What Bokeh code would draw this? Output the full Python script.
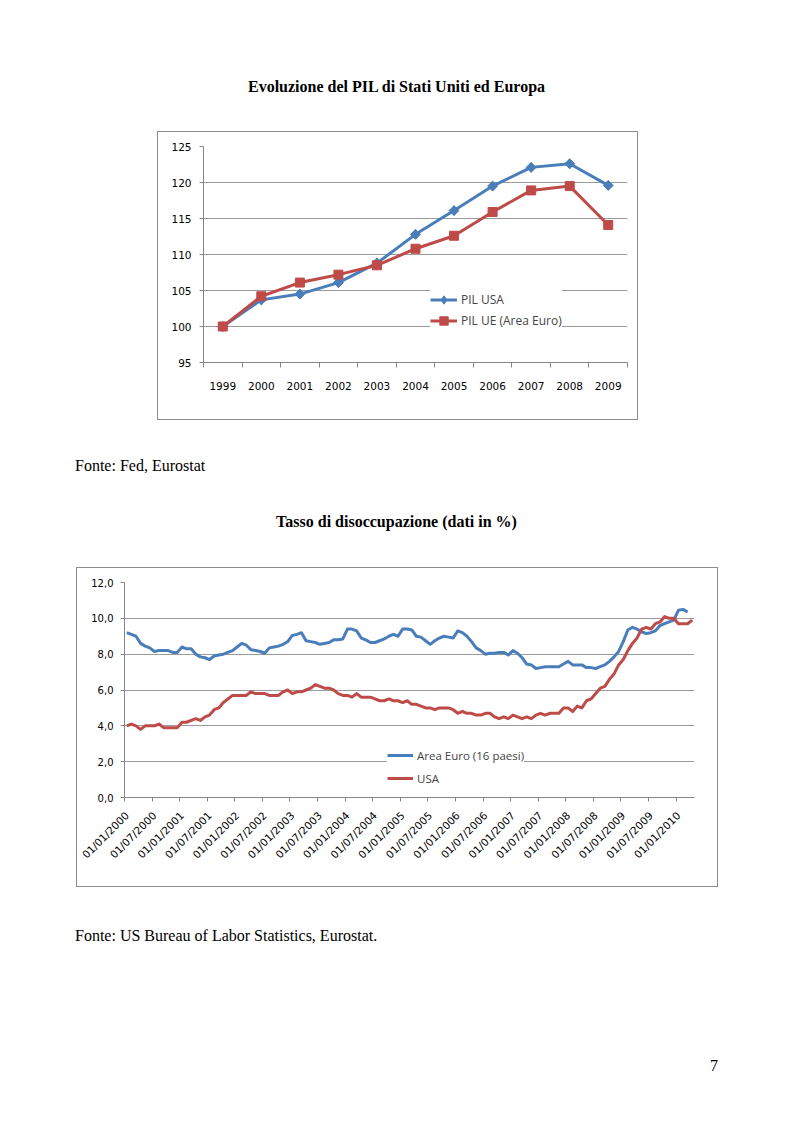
import math
import numpy as np
from bokeh.plotting import figure
from bokeh.models import Range1d, FixedTicker, Legend, LegendItem, Div, Spacer
from bokeh.layouts import column, row
from bokeh.embed import file_html
from bokeh.resources import INLINE

# ---------------- data: chart 1 ----------------
years = ["1999", "2000", "2001", "2002", "2003", "2004", "2005", "2006", "2007", "2008", "2009"]
pil_usa = [100.0, 103.7, 104.5, 106.1, 108.8, 112.8, 116.1, 119.5, 122.1, 122.6, 119.6]
pil_ue = [100.0, 104.2, 106.1, 107.2, 108.5, 110.8, 112.6, 115.9, 118.9, 119.5, 114.1]
y1_ticks = [95, 100, 105, 110, 115, 120, 125]

# ---------------- data: chart 2 (monthly, from 01/2000) ----------------
date_labels = ["01/01/2000", "01/07/2000", "01/01/2001", "01/07/2001", "01/01/2002",
               "01/07/2002", "01/01/2003", "01/07/2003", "01/01/2004", "01/07/2004",
               "01/01/2005", "01/07/2005", "01/01/2006", "01/07/2006", "01/01/2007",
               "01/07/2007", "01/01/2008", "01/07/2008", "01/01/2009", "01/07/2009",
               "01/01/2010"]
area_euro = [9.2, 9.1, 9.0, 8.6, 8.45, 8.35, 8.15, 8.2, 8.2, 8.2, 8.1, 8.1,
             8.4, 8.3, 8.3, 8.0, 7.85, 7.8, 7.7, 7.9, 7.95, 8.0, 8.1, 8.2,
             8.4, 8.6, 8.5, 8.25, 8.2, 8.15, 8.05, 8.35, 8.4, 8.45, 8.55, 8.7,
             9.05, 9.1, 9.2, 8.75, 8.7, 8.65, 8.55, 8.6, 8.65, 8.8, 8.8, 8.85,
             9.4, 9.4, 9.3, 8.9, 8.8, 8.65, 8.65, 8.75, 8.85, 9.0, 9.1, 9.0,
             9.4, 9.4, 9.35, 9.0, 8.95, 8.75, 8.55, 8.75, 8.9, 9.0, 8.95, 8.9,
             9.3, 9.2, 9.0, 8.7, 8.35, 8.2, 8.0, 8.05, 8.05, 8.1, 8.1, 7.95,
             8.2, 8.05, 7.8, 7.45, 7.4, 7.2, 7.25, 7.3, 7.3, 7.3, 7.3, 7.45,
             7.6, 7.4, 7.4, 7.4, 7.25, 7.25, 7.2, 7.3, 7.4, 7.6, 7.85, 8.15,
             8.7, 9.35, 9.5, 9.4, 9.25, 9.15, 9.2, 9.3, 9.6, 9.7, 9.8, 9.9,
             10.45, 10.5, 10.35]
usa = [4.0, 4.1, 4.0, 3.8, 4.0, 4.0, 4.0, 4.1, 3.9, 3.9, 3.9, 3.9,
       4.2, 4.2, 4.3, 4.4, 4.3, 4.5, 4.6, 4.9, 5.0, 5.3, 5.5, 5.7,
       5.7, 5.7, 5.7, 5.9, 5.8, 5.8, 5.8, 5.7, 5.7, 5.7, 5.9, 6.0,
       5.8, 5.9, 5.9, 6.0, 6.1, 6.3, 6.2, 6.1, 6.1, 6.0, 5.8, 5.7,
       5.7, 5.6, 5.8, 5.6, 5.6, 5.6, 5.5, 5.4, 5.4, 5.5, 5.4, 5.4,
       5.3, 5.4, 5.2, 5.2, 5.1, 5.0, 5.0, 4.9, 5.0, 5.0, 5.0, 4.9,
       4.7, 4.8, 4.7, 4.7, 4.6, 4.6, 4.7, 4.7, 4.5, 4.4, 4.5, 4.4,
       4.6, 4.5, 4.4, 4.5, 4.4, 4.6, 4.7, 4.6, 4.7, 4.7, 4.7, 5.0,
       5.0, 4.8, 5.1, 5.0, 5.4, 5.5, 5.8, 6.1, 6.2, 6.6, 6.9, 7.4,
       7.7, 8.2, 8.6, 8.9, 9.4, 9.5, 9.4, 9.7, 9.8, 10.1, 10.0, 10.0,
       9.7, 9.7, 9.7, 9.9]
y2_ticks = [0, 2, 4, 6, 8, 10, 12]
y2_labels = ["0,0", "2,0", "4,0", "6,0", "8,0", "10,0", "12,0"]

BLUE = "#4a7ebb"
RED = "#be4b48"
AXIS = "#868686"
GRID = "#9a9a9a"
TICK_FONT = "DejaVu Sans"
LEG_FONT = "Open Sans"
BOX = {"outline": "1px solid #8c8c8c", "outline-offset": "-1px"}


def style_axes(p):
    for ax in (p.xaxis[0], p.yaxis[0]):
        ax.axis_line_color = AXIS
        ax.major_tick_line_color = AXIS
        ax.minor_tick_line_color = AXIS
        ax.major_label_text_font = TICK_FONT
        ax.major_label_text_color = "#000000"
        ax.major_tick_in = 0
        ax.minor_tick_in = 0
    p.xgrid.visible = False
    p.ygrid.grid_line_color = GRID
    p.ygrid.grid_line_width = 1
    p.outline_line_color = None


# ---------------- chart 1 ----------------
W1, H1 = 481, 289
x1 = np.arange(len(years)) + 0.5
p1 = figure(width=W1, height=H1, output_backend="svg", toolbar_location=None,
            x_range=Range1d(0, len(years)), y_range=Range1d(y1_ticks[0], y1_ticks[-1]),
            min_border_left=46, min_border_right=11, min_border_top=15, min_border_bottom=58,
            background_fill_color="white", border_fill_alpha=0.0, styles=BOX, margin=0)
style_axes(p1)
p1.xaxis.ticker = FixedTicker(ticks=list(x1), minor_ticks=list(range(len(years) + 1)))
p1.xaxis.major_label_overrides = {float(c): y for c, y in zip(x1, years)}
p1.xaxis.major_tick_out = 0
p1.xaxis.minor_tick_out = 5
p1.xaxis.major_label_standoff = 14
p1.xaxis.major_label_text_font_size = "10.5px"
p1.yaxis.ticker = FixedTicker(ticks=y1_ticks, minor_ticks=[])
p1.ygrid.ticker = FixedTicker(ticks=y1_ticks[1:])
p1.yaxis.major_tick_out = 4
p1.yaxis.major_label_standoff = 8
p1.yaxis.major_label_text_font_size = "10.5px"

l_usa = p1.line(x1, pil_usa, line_color=BLUE, line_width=3, line_join="round")
# diamond (used by the legend) underneath a rotated square of the same extent
d_usa = p1.scatter(x1, pil_usa, marker="diamond", size=9.5, fill_color=BLUE, line_color=BLUE)
m_usa = p1.scatter(x1, pil_usa, marker="square", angle=math.pi / 4, size=7,
                   fill_color=BLUE, line_color=BLUE)
l_ue = p1.line(x1, pil_ue, line_color=RED, line_width=3, line_join="round")
m_ue = p1.scatter(x1, pil_ue, marker="square", size=9, fill_color=RED, line_color=RED)

leg1 = Legend(items=[LegendItem(label="PIL USA", renderers=[l_usa, d_usa]),
                     LegendItem(label="PIL UE (Area Euro)", renderers=[l_ue, m_ue])],
              location=(227, 31), margin=0, padding=5, spacing=0,
              glyph_width=27, glyph_height=21, label_height=21, label_standoff=4,
              label_text_font=LEG_FONT, label_text_font_size="12px",
              background_fill_color="white", background_fill_alpha=1.0,
              border_line_color=None)
p1.add_layout(leg1)

# ---------------- chart 2 ----------------
W2, H2 = 642, 320
x_eu = np.arange(len(area_euro))
x_us = np.arange(len(usa))
label_pos = [6 * i for i in range(len(date_labels))]
p2 = figure(width=W2, height=H2, output_backend="svg", toolbar_location=None,
            x_range=Range1d(-0.5, len(usa) - 0.5), y_range=Range1d(y2_ticks[0], y2_ticks[-1]),
            min_border_left=48, min_border_right=24, min_border_top=15, min_border_bottom=90,
            background_fill_color="white", border_fill_alpha=0.0, styles=BOX, margin=0)
style_axes(p2)
p2.xaxis.ticker = FixedTicker(ticks=label_pos, minor_ticks=[t - 0.5 for t in label_pos])
p2.xaxis.major_label_overrides = {t: lab for t, lab in zip(label_pos, date_labels)}
p2.xaxis.major_label_orientation = math.pi / 4
p2.xaxis.major_tick_out = 0
p2.xaxis.minor_tick_out = 4
p2.xaxis.major_label_standoff = 12
p2.xaxis.major_label_text_font_size = "10.5px"
p2.yaxis.ticker = FixedTicker(ticks=y2_ticks, minor_ticks=[])
p2.yaxis.major_label_overrides = {t: lab for t, lab in zip(y2_ticks, y2_labels)}
p2.ygrid.ticker = FixedTicker(ticks=y2_ticks[1:])
p2.yaxis.major_tick_out = 4
p2.yaxis.major_label_standoff = 7
p2.yaxis.major_label_text_font_size = "10px"

l_eu2 = p2.line(x_eu, area_euro, line_color=BLUE, line_width=3, line_join="round")
l_us2 = p2.line(x_us, usa, line_color=RED, line_width=3, line_join="round")
leg2 = Legend(items=[LegendItem(label="Area Euro (16 paesi)", renderers=[l_eu2]),
                     LegendItem(label="USA", renderers=[l_us2])],
              location=(263, 8), margin=0, padding=5, spacing=1,
              glyph_width=26, glyph_height=22, label_height=22, label_standoff=4,
              label_text_font=LEG_FONT, label_text_font_size="11.5px",
              background_fill_color="white", background_fill_alpha=1.0,
              border_line_color=None)
p2.add_layout(leg2)


# ---------------- page texts ----------------
def text_div(txt, width, bold=False, align="left", size=16):
    w = "bold" if bold else "normal"
    html = ('<div style="width:%dpx;font-family:\'Liberation Serif\',serif;font-weight:%s;'
            'font-size:%dpx;line-height:20px;text-align:%s;white-space:nowrap;color:#000;">%s</div>'
            % (width, w, size, align, txt))
    return Div(text=html, width=width, height=20, margin=0)


def sp(w=0, h=0):
    return Spacer(width=w, height=h, margin=0)


page = column(
    sp(h=77),
    text_div("Evoluzione del PIL di Stati Uniti ed Europa", 793, bold=True, align="center"),
    sp(h=34),
    row(sp(w=157), p1, margin=0),
    sp(h=36),
    row(sp(w=75), text_div("Fonte: Fed, Eurostat", 400), margin=0),
    sp(h=36),
    text_div("Tasso di disoccupazione (dati in %)", 793, bold=True, align="center"),
    sp(h=35),
    row(sp(w=76), p2, margin=0),
    sp(h=39),
    row(sp(w=75), text_div("Fonte: US Bureau of Labor Statistics, Eurostat.", 500), margin=0),
    sp(h=110),
    row(sp(w=710), text_div("7", 12, size=16), margin=0),
    margin=0,
)

open("out.html", "w").write(file_html(page, INLINE))
